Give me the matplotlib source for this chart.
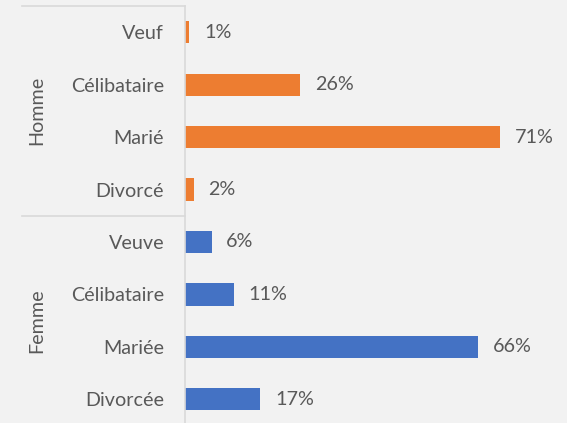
import matplotlib.pyplot as plt
import numpy as np

plt.rcParams["font.family"] = ["Lato", "DejaVu Sans"]

groups = ["Homme", "Femme"]
homme_labels = ["Veuf", "Célibataire", "Marié", "Divorcé"]
homme_values = [1, 26, 71, 2]
femme_labels = ["Veuve", "Célibataire", "Mariée", "Divorcée"]
femme_values = [6, 11, 66, 17]

ORANGE = "#ED7D31"
BLUE = "#4472C4"
TEXT = "#595959"
LINE = "#D9D9D9"
BG = "#F2F2F2"
FS = 14.2

labels = homme_labels + femme_labels
values = homme_values + femme_values
colors = [ORANGE] * len(homme_values) + [BLUE] * len(femme_values)
positions = np.arange(len(values))

fig = plt.figure(figsize=(5.67, 4.23), dpi=100, facecolor=BG)
# plot area: left edge at the category axis, extends a little past the bottom
ax = fig.add_axes([185 / 567, -0.0064, 355 / 567, 0.9927])
ax.set_facecolor(BG)

ax.barh(positions, values, height=0.42, color=colors)
for pos, value in zip(positions, values):
    ax.text(value + 3.3, pos, f"{value}%", va="center", ha="left", fontsize=FS, color=TEXT)

ax.set_xlim(0, 80)
ax.set_ylim(len(values) - 0.5, -0.5)
ax.set_xticks([])
ax.set_yticks(positions, labels, fontsize=FS, color=TEXT)
ax.tick_params(axis="y", length=0, pad=15)

for side in ["top", "right", "bottom"]:
    ax.spines[side].set_visible(False)
ax.spines["left"].set_color(LINE)
ax.spines["left"].set_linewidth(1.2)

# group separators and group labels
trans = ax.get_yaxis_transform()
left_edge = -163 / 355
for y in [-0.5, 3.5, 7.5]:
    ax.plot([left_edge, 0], [y, y], color=LINE, lw=1.2, transform=trans, clip_on=False)
n = len(homme_values)
ax.text(-148 / 355, (n - 1) / 2, groups[0], rotation=90, va="center", ha="center",
        fontsize=FS, color=TEXT, transform=trans)
ax.text(-148 / 355, n + (len(femme_values) - 1) / 2, groups[1], rotation=90, va="center",
        ha="center", fontsize=FS, color=TEXT, transform=trans)

fig.savefig("out.png", dpi=100, facecolor=BG)
